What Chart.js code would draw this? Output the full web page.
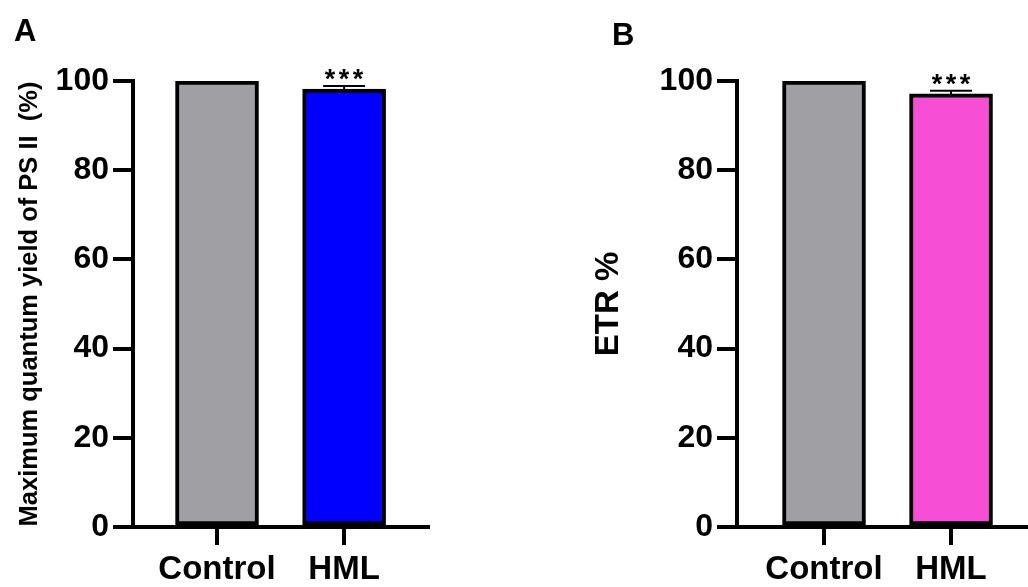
<!DOCTYPE html>
<html>
<head>
<meta charset="utf-8">
<script src="https://cdn.jsdelivr.net/npm/chart.js@4"></script>
<style>
  body { margin: 0; background: #fff; }
  #wrap { position: relative; width: 1028px; height: 587px; overflow: hidden; }
  canvas { position: absolute; top: 0; }
  .panel { position: absolute; font: bold 31px "Liberation Sans", Arial, sans-serif; color: #000; }
</style>
</head>
<body>
<div id="wrap">
  <canvas id="chartA" width="514" height="587" style="left:0"></canvas>
  <canvas id="chartB" width="514" height="587" style="left:514px"></canvas>
  <div class="panel" style="left:14px;top:13px">A</div>
  <div class="panel" style="left:612px;top:17px">B</div>
</div>
<script>
// ── data ──────────────────────────────────────────────
const categories = ['Control', 'HML'];
const fvfmValues = [100, 98.2];
const fvfmErrors = [0, 0.7];
const etrValues = [100, 97.1];
const etrErrors = [0, 0.7];
const sigMarks = ['', '***'];
const yTickValues = [0, 20, 40, 60, 80, 100];

const FONT = '"Liberation Sans", Arial, sans-serif';

// error bars + significance stars
const errorBars = {
    id: 'errorBars',
    afterDatasetsDraw(chart, args, opts) {
        const { ctx } = chart;
        const y = chart.scales.y;
        const meta = chart.getDatasetMeta(0);
        meta.data.forEach((bar, i) => {
            const err = opts.errors[i];
            if (!err) return;
            const top = y.getPixelForValue(opts.values[i]);
            const cap = y.getPixelForValue(opts.values[i] + err);
            ctx.save();
            ctx.strokeStyle = '#000';
            ctx.lineWidth = 2;
            ctx.beginPath();
            ctx.moveTo(bar.x, top);
            ctx.lineTo(bar.x, cap);
            ctx.moveTo(bar.x - 21, cap);
            ctx.lineTo(bar.x + 21, cap);
            ctx.stroke();
            if (opts.marks[i]) {
                ctx.fillStyle = '#000';
                ctx.font = 'bold 27px ' + FONT;
                ctx.textAlign = 'center';
                ctx.textBaseline = 'alphabetic';
                [-14, 0, 14].forEach(dx => ctx.fillText('*', bar.x + dx, cap + 2));
            }
            ctx.restore();
        });
    }
};

function makeChart(id, values, errors, colors, title, titleFont, titlePad, axisWidth, padRight, xMin, xMax) {
    return new Chart(document.getElementById(id), {
        type: 'bar',
        data: {
            datasets: [{
                data: categories.map((c, i) => ({ x: i + 1, y: values[i] })),
                backgroundColor: colors,
                borderColor: '#000',
                borderWidth: 4,
                borderSkipped: false,
                barThickness: 83
            }]
        },
        options: {
            responsive: false,
            animation: false,
            devicePixelRatio: 1,
            layout: { padding: { top: 81, right: padRight, bottom: 0, left: 0 } },
            plugins: {
                legend: { display: false },
                tooltip: { enabled: false },
                errorBars: { values, errors, marks: sigMarks }
            },
            scales: {
                x: {
                    type: 'linear',
                    min: xMin,
                    max: xMax,
                    offset: false,
                    afterBuildTicks: s => { s.ticks = categories.map((c, i) => ({ value: i + 1 })); },
                    afterFit: s => { s.height = 60; },
                    border: { display: true, width: 4, color: '#000' },
                    grid: { offset: false, drawOnChartArea: false, drawTicks: true, tickLength: 18, lineWidth: 4, color: '#000' },
                    ticks: {
                        callback: v => categories[v - 1],
                        color: '#000',
                        padding: 5,
                        maxRotation: 0,
                        autoSkip: false,
                        font: { family: FONT, size: 33, weight: 'bold' }
                    }
                },
                y: {
                    min: 0,
                    max: 100,
                    afterBuildTicks: s => { s.ticks = yTickValues.map(v => ({ value: v })); },
                    afterFit: s => { s.width = axisWidth; },
                    border: { display: true, width: 4, color: '#000' },
                    grid: { drawOnChartArea: false, drawTicks: true, tickLength: 20, lineWidth: 4, color: '#000' },
                    ticks: {
                        color: '#000',
                        padding: 4,
                        font: { family: FONT, size: 32, weight: 'bold' }
                    },
                    title: {
                        display: true,
                        text: title,
                        color: '#000',
                        padding: { top: titlePad, bottom: 0 },
                        font: titleFont
                    }
                }
            }
        },
        plugins: [errorBars]
    });
}

makeChart('chartA', fvfmValues, fvfmErrors, ['#a09fa4', '#0000ff'],
    'Maximum quantum yield of PS II  (%)', { family: FONT, size: 25.5, weight: 'bold' }, 15,
    133, 86, 0.339, 2.66);

makeChart('chartB', etrValues, etrErrors, ['#a09fa4', '#f64fd6'],
    'ETR %', { family: FONT, size: 33, weight: 'bold' }, 75,
    223, 0, 0.315, 2.606);
</script>
</body>
</html>
